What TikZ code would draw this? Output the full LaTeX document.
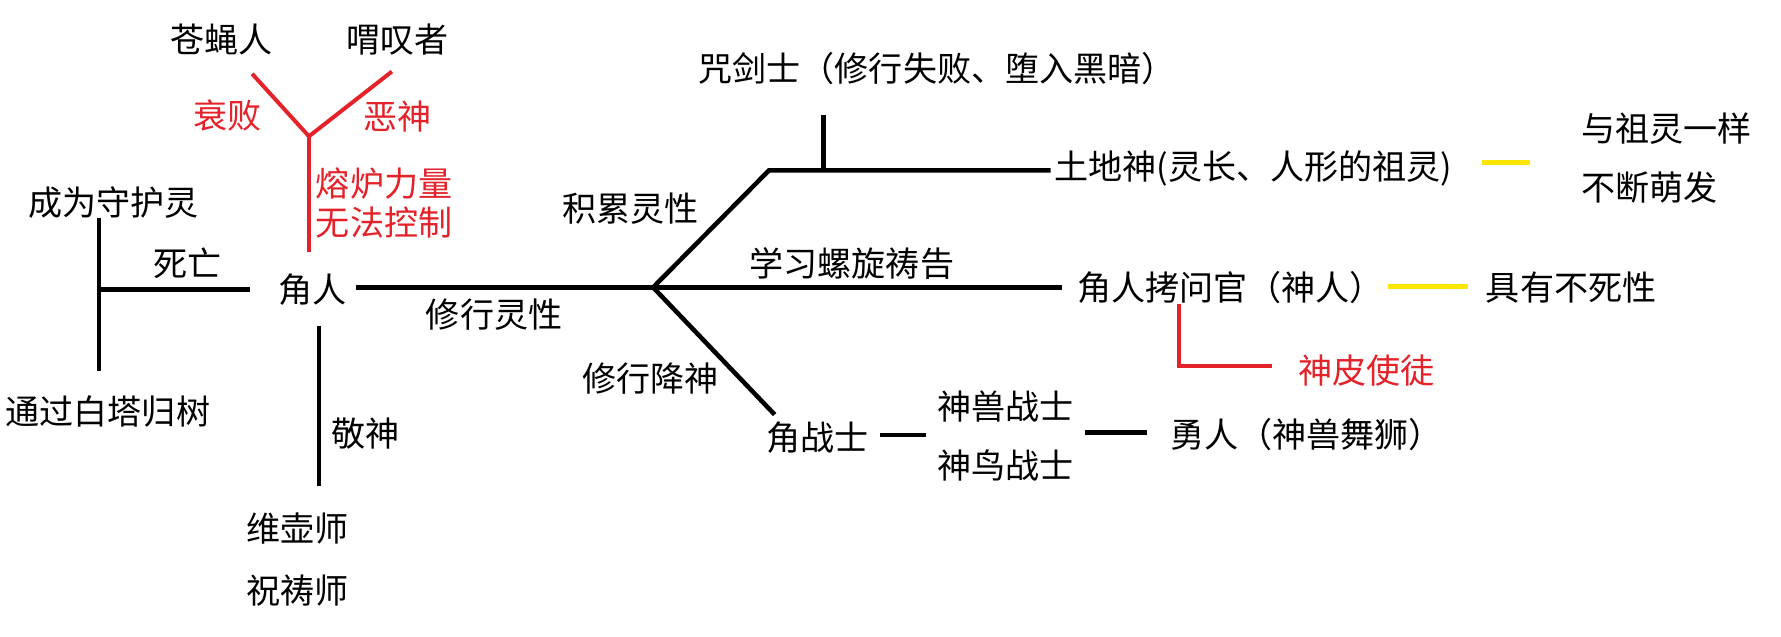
\documentclass[tikz,border=0pt]{standalone}
\usepackage{fontspec}
\setmainfont{Noto Sans CJK SC}
\begin{document}
\begin{tikzpicture}[x=1pt,y=-1pt,
  txt/.style={inner sep=0pt, font=\fontsize{30}{36}\selectfont},
  redtxt/.style={txt, text=myred},
  blk/.style={line width=4pt, black},
  redl/.style={line width=3.5pt, myred},
  yel/.style={line width=4pt, myyellow}]
\definecolor{myred}{RGB}{228,34,42}
\definecolor{myyellow}{RGB}{250,230,0}
\fill[white] (0,0) rectangle (1568,560);
\useasboundingbox (0,0) rectangle (1568,560);
% top red Y
\node[txt] (cangying) at (195,35) {苍蝇人};
\node[txt] (kuitan) at (350,35) {喟叹者};
\coordinate (yj) at (272,120);
\coordinate (yl) at (222,65);
\coordinate (yr) at (345,63);
\coordinate (ys) at (272,222);
\draw[redl] (yl) -- (yj) -- (yr);
\draw[redl] (yj) -- (ys);
\node[redtxt] (shuaibai) at (200,102) {衰败};
\node[redtxt] (eshen) at (350,103) {恶神};
\node[redtxt, anchor=west] (ronglu) at (278,162) {熔炉力量};
\node[redtxt, anchor=west] (wufa) at (278,196) {无法控制};
% left bracket
\node[txt] (shouhu) at (100,178) {成为守护灵};
\node[txt] (baita) at (95,362) {通过白塔归树};
\coordinate (bt) at (87,192);
\coordinate (bb) at (87,327);
\coordinate (bm) at (87,255);
\node[txt] (jiaoren) at (275,255) {角人};
\draw[blk] (bt) -- (bb);
\draw[blk] (bm) -- (220,255) coordinate (sw);
\node[txt] (siwang) at (165,232) {死亡};
% down from jiaoren
\coordinate (dv1) at (281,287);
\coordinate (dv2) at (281,428);
\draw[blk] (dv1) -- (dv2);
\node[txt] (jingshen) at (322,382) {敬神};
\node[txt] (weihu) at (262,465) {维壶师};
\node[txt] (zhudao) at (262,520) {祝祷师};
% main line
\coordinate (ms) at (313,253);
\coordinate (J) at (575,253);
\draw[blk] (ms) -- (J);
\node[txt] (xiuxing) at (435,277) {修行灵性};
% upper branch
\coordinate (ub) at (677,150);
\coordinate (ue) at (925,150);
\coordinate (uv) at (725,150);
\coordinate (uvt) at (725,101);
\draw[blk] (J) -- (ub) -- (ue);
\draw[blk] (uv) -- (uvt);
\node[txt] (zhoujian) at (825,60) {咒剑士（修行失败、堕入黑暗）};
\node[txt] (jilei) at (555,184) {积累灵性};
\node[txt, anchor=west] (tudi) at (928,148) {土地神(灵长、人形的祖灵)};
\draw[yel] (1305,143) coordinate (y1a) -- (1347,143) coordinate (y1b);
\node[txt, anchor=west] (yuzu) at (1392,113) {与祖灵一样};
\node[txt, anchor=west] (buduan) at (1392,165) {不断萌发};
% middle branch
\coordinate (me) at (935,253);
\draw[blk] (J) -- (me);
\node[txt] (xuexi) at (750,232) {学习螺旋祷告};
\node[txt, anchor=west] (kaowen) at (948,253) {角人拷问官（神人）};
\draw[yel] (1222,252) coordinate (y2a) -- (1292,252) coordinate (y2b);
\node[txt, anchor=west] (busi) at (1308,253) {具有不死性};
\coordinate (rl1) at (1038,268);
\coordinate (rl2) at (1038,322);
\coordinate (rl3) at (1120,322);
\draw[redl] (rl1) -- (rl2) -- (rl3);
\node[redtxt, anchor=west] (shenpi) at (1143,326) {神皮使徒};
% lower branch
\coordinate (le) at (682,365);
\draw[blk] (J) -- (le);
\node[txt] (jiangshen) at (573,333) {修行降神};
\node[txt] (jiaozhan) at (720,385) {角战士};
\draw[blk] (775,383) coordinate (l1a) -- (815,383) coordinate (l1b);
\node[txt] (shenshou) at (885,358) {神兽战士};
\node[txt] (shenniao) at (885,410) {神鸟战士};
\draw[blk] (955,381) coordinate (l2a) -- (1010,381) coordinate (l2b);
\node[txt, anchor=west] (yongren) at (1030,383) {勇人（神兽舞狮）};
\end{tikzpicture}
\end{document}
